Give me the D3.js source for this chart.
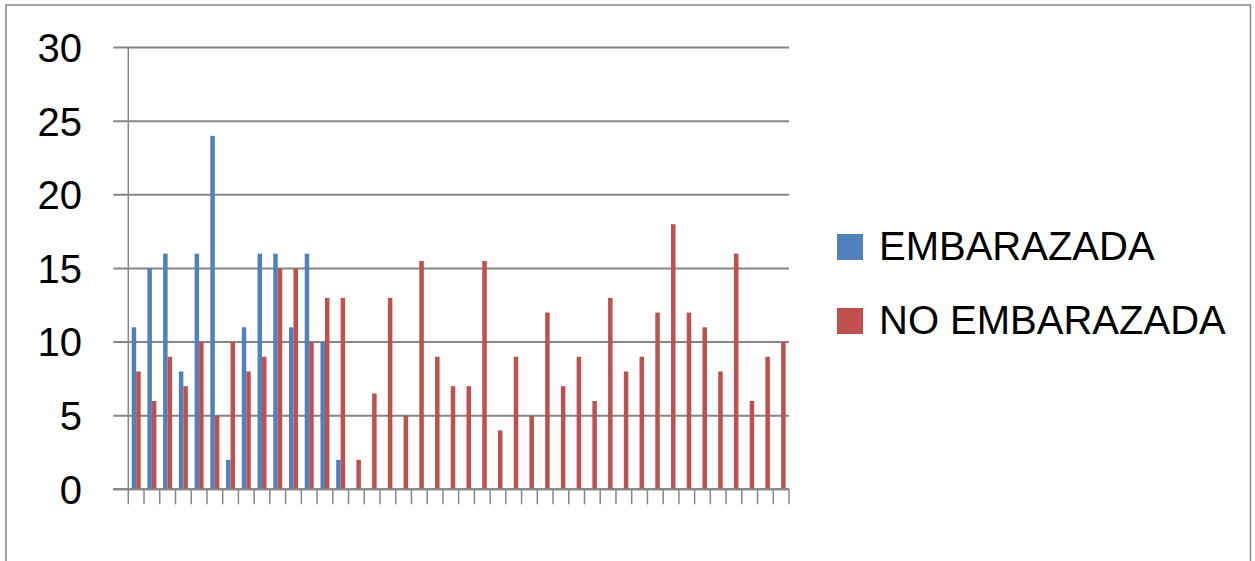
<!DOCTYPE html>
<html>
<head>
<meta charset="utf-8">
<script src="https://cdn.jsdelivr.net/npm/d3@7"></script>
<style>
  html, body { margin: 0; padding: 0; background: #ffffff; }
  svg { display: block; }
  text { font-family: "Liberation Sans", Arial, sans-serif; fill: #000; }
</style>
</head>
<body>
<svg id="chart" width="1255" height="561"></svg>
<script>
// Category index (42 groups, no labels on the axis)
const categories = [1,2,3,4,5,6,7,8,9,10,11,12,13,14,15,16,17,18,19,20,21,
                    22,23,24,25,26,27,28,29,30,31,32,33,34,35,36,37,38,39,40,41,42];

const seriesNames = ["EMBARAZADA", "NO EMBARAZADA"];
const seriesColors = ["#4F81BD", "#C0504D"];

const embarazada = [11,15,16,8,16,24,2,11,16,16,11,16,10,2,
                    null,null,null,null,null,null,null,null,null,null,null,null,null,null,
                    null,null,null,null,null,null,null,null,null,null,null,null,null,null];

const noEmbarazada = [8,6,9,7,10,5,10,8,9,15,15,10,13,13,
                      2,6.5,13,5,15.5,9,7,7,15.5,4,9,5,12,7,
                      9,6,13,8,9,12,18,12,11,8,16,6,9,10];

const yTicks = [0,5,10,15,20,25,30];

const svg = d3.select("#chart");

// Outer frame of the chart area
svg.append("rect")
  .attr("x", 6).attr("y", 5)
  .attr("width", 1244.5).attr("height", 620)
  .attr("fill", "none")
  .attr("stroke", "#878787")
  .attr("stroke-width", 1.5);

const plot = { left: 128.3, right: 789, top: 47.5, bottom: 489.3 };

const y = d3.scaleLinear().domain([0, 30]).range([plot.bottom, plot.top]);

const x0 = d3.scaleBand()
  .domain(categories)
  .range([plot.left, plot.right])
  .paddingInner(0).paddingOuter(0);

// Two bars per group with a 150% gap between groups
const bw = x0.bandwidth();
const barW = bw / 3.5;
const x1 = d3.scaleBand()
  .domain(seriesNames)
  .range([barW * 0.75, barW * 2.75])
  .padding(0);

// Horizontal gridlines (extend left of the axis as tick marks)
svg.append("g")
  .selectAll("line")
  .data(yTicks)
  .join("line")
  .attr("x1", plot.left - 15)
  .attr("x2", plot.right)
  .attr("y1", d => y(d))
  .attr("y2", d => y(d))
  .attr("stroke", "#868686")
  .attr("stroke-width", 2);

// Y tick labels
svg.append("g")
  .selectAll("text")
  .data(yTicks)
  .join("text")
  .attr("x", 82)
  .attr("y", d => y(d))
  .attr("dy", "0.36em")
  .attr("text-anchor", "end")
  .attr("font-size", 40)
  .text(d => d);

// Bars
const rows = categories.map((c, i) => ({ cat: c, vals: [embarazada[i], noEmbarazada[i]] }));

const groups = svg.append("g")
  .selectAll("g")
  .data(rows)
  .join("g")
  .attr("transform", d => `translate(${x0(d.cat)},0)`);

groups.selectAll("rect")
  .data(d => d.vals.map((v, k) => ({ key: seriesNames[k], v, k })).filter(e => e.v !== null))
  .join("rect")
  .attr("x", d => x1(d.key))
  .attr("width", x1.bandwidth())
  .attr("y", d => y(d.v))
  .attr("height", d => y(0) - y(d.v))
  .attr("fill", d => seriesColors[d.k]);

// Vertical axis line
svg.append("line")
  .attr("x1", plot.left).attr("x2", plot.left)
  .attr("y1", plot.top).attr("y2", plot.bottom)
  .attr("stroke", "#868686")
  .attr("stroke-width", 1.5);

// Category tick marks below the baseline
const xTickPos = categories.map(c => x0(c)).concat([plot.right]);
svg.append("g")
  .selectAll("line")
  .data(xTickPos)
  .join("line")
  .attr("x1", d => d).attr("x2", d => d)
  .attr("y1", plot.bottom).attr("y2", plot.bottom + 15)
  .attr("stroke", "#868686")
  .attr("stroke-width", 1.5);

// Baseline
svg.append("line")
  .attr("x1", plot.left - 15).attr("x2", plot.right)
  .attr("y1", plot.bottom).attr("y2", plot.bottom)
  .attr("stroke", "#868686")
  .attr("stroke-width", 2);

// Legend
const legend = svg.append("g")
  .selectAll("g")
  .data(seriesNames)
  .join("g")
  .attr("transform", (d, i) => `translate(837,${234 + i * 74})`);

legend.append("rect")
  .attr("width", 26).attr("height", 26)
  .attr("fill", (d, i) => seriesColors[i]);

legend.append("text")
  .attr("x", 42)
  .attr("y", 26)
  .attr("font-size", 40)
  .text(d => d);
</script>
</body>
</html>
